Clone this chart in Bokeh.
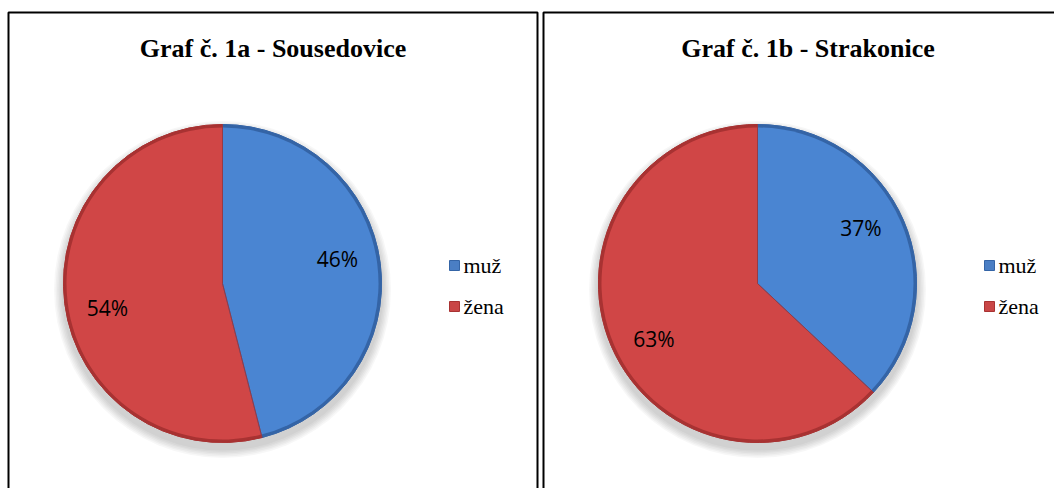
import numpy as np
from bokeh.plotting import figure
from bokeh.models import Range1d, ColumnDataSource
from bokeh.embed import file_html
from bokeh.resources import INLINE
from bokeh.core.properties import value

# ---- data ----
categories = ["muž", "žena"]
titles = ["Graf č. 1a - Sousedovice", "Graf č. 1b - Strakonice"]
sousedovice = [46, 54]
strakonice = [37, 63]
series = [sousedovice, strakonice]

# ---- style ----
fill_colors = ["#4A85D2", "#D04646"]
edge_colors = ["#3464A6", "#A83232"]
legend_colors = ["#4A7EC4", "#C94646"]
W, H = 1054, 488
panel_left = 8
panel_w = 529
panel_gap = 6
panel_top = -12
R = 159
cx_rel, cy = 214, -283
title_y = -48
leg_x_rel = 446
leg_y = [-265, -306]

p = figure(width=W, height=H, output_backend="svg", toolbar_location=None,
           x_range=Range1d(0, W), y_range=Range1d(-H, 0), min_border=0)
p.axis.visible = False
p.grid.visible = False
p.outline_line_color = None
p.background_fill_color = "white"
p.border_fill_color = "white"

for i, (title, vals) in enumerate(zip(titles, series)):
    x0 = panel_left + i * (panel_w + panel_gap)
    # panel border
    p.quad(left=[x0], right=[x0 + panel_w], top=[panel_top], bottom=[-H - 20],
           fill_color=None, line_color="black", line_width=2)
    # title
    p.text(x=[x0 + panel_w / 2], y=[title_y], text=[title],
           text_font=value("Liberation Serif"), text_font_style="bold",
           text_font_size="26px", text_align="center", text_baseline="middle",
           text_color="black")
    cx = x0 + cx_rel
    # shadow
    for k in range(6):
        p.circle(x=[cx], y=[cy - 6], radius=R + 2 + k * 1.5,
                 fill_color="black", fill_alpha=0.03, line_color=None)
    # wedges
    fr = np.array(vals, dtype=float) / sum(vals)
    ends = np.pi / 2 - 2 * np.pi * np.cumsum(fr)
    starts = np.concatenate([[np.pi / 2], ends[:-1]])
    src = ColumnDataSource(dict(x=[cx] * len(vals), y=[cy] * len(vals),
                                start=starts, end=ends,
                                fill=fill_colors, edge=edge_colors))
    p.wedge(x="x", y="y", radius=R, start_angle="start", end_angle="end",
            direction="clock", fill_color="edge", line_color="edge",
            line_width=1, source=src)
    p.wedge(x="x", y="y", radius=R - 3, start_angle="start", end_angle="end",
            direction="clock", fill_color="fill", line_color=None, source=src)
    # slice borders (thin darker lines)
    p.wedge(x="x", y="y", radius=R, start_angle="start", end_angle="end",
            direction="clock", fill_color=None, line_color="edge",
            line_width=1, line_alpha=0.8, source=src)
    # labels
    mids = (starts + ends) / 2 + np.deg2rad(5)
    lr = 0.74 * R
    p.text(x=cx + lr * np.cos(mids), y=cy + lr * np.sin(mids),
           text=[f"{v}%" for v in vals], text_font=value("Open Sans"),
           text_font_size="21px", text_align="center", text_baseline="middle",
           text_color="black")
    # legend
    for j, cat in enumerate(categories):
        p.rect(x=[x0 + leg_x_rel], y=[leg_y[j]], width=10, height=10,
               fill_color=legend_colors[j], line_color=edge_colors[j], line_width=1)
        p.text(x=[x0 + leg_x_rel + 9], y=[leg_y[j]], text=[cat],
               text_font=value("Liberation Serif"), text_font_size="22px",
               text_align="left", text_baseline="middle", text_color="black")

open("out.html", "w").write(file_html(p, INLINE))
